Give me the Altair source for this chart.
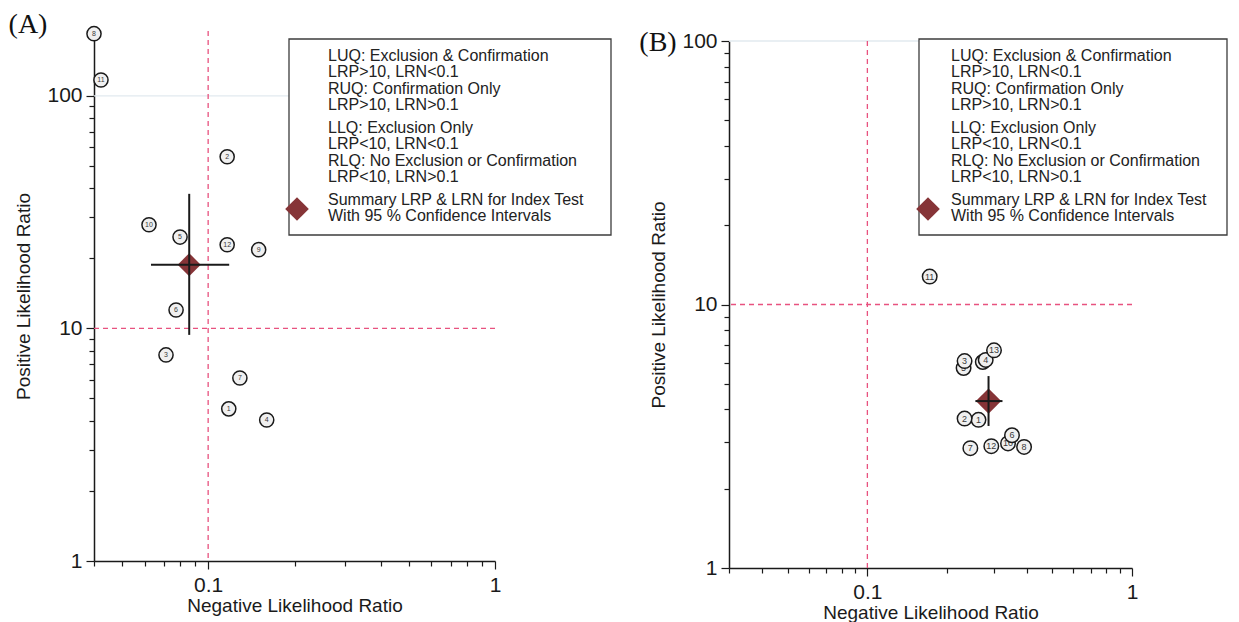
import altair as alt
import pandas as pd

# ---------------- Panel A (12 studies) ----------------
a_study = [1, 2, 3, 4, 5, 6, 7, 8, 9, 10, 11, 12]
a_lrn = [0.118, 0.1165, 0.0713, 0.160, 0.0798, 0.0773, 0.129, 0.0400, 0.150, 0.0622, 0.0423, 0.1165]
a_lrp = [4.51, 54.7, 7.69, 4.04, 24.7, 12.0, 6.12, 185.0, 21.8, 27.9, 117.0, 22.9]
a_draw_order = [1, 2, 3, 4, 5, 6, 7, 8, 9, 10, 11, 12]
a_sum_lrn = [0.0859]
a_sum_lrp = [18.8]
a_lrn_ci = [0.0632, 0.1184]
a_lrp_ci = [9.38, 37.9]

# ---------------- Panel B (13 studies) ----------------
b_study = [1, 2, 3, 4, 5, 6, 7, 8, 9, 10, 11, 12, 13]
b_lrn = [0.263, 0.233, 0.233, 0.280, 0.231, 0.352, 0.245, 0.391, 0.273, 0.340, 0.172, 0.294, 0.301]
b_lrp = [3.65, 3.69, 6.10, 6.16, 5.74, 3.19, 2.85, 2.88, 6.05, 2.97, 12.76, 2.90, 6.70]
b_draw_order = [5, 9, 10, 1, 2, 3, 4, 6, 7, 8, 11, 12, 13]
b_sum_lrn = [0.287]
b_sum_lrp = [4.30]
b_lrn_ci = [0.256, 0.324]
b_lrp_ci = [3.46, 5.35]

# ---------------- axes ----------------
y_ticks = [1, 2, 3, 4, 5, 6, 7, 8, 9, 10, 20, 30, 40, 50, 60, 70, 80, 90, 100]
y_major = [1, 10, 100]
a_x_ticks = [0.04, 0.05, 0.06, 0.07, 0.08, 0.09, 0.1, 0.2, 0.3, 0.4, 0.5, 0.6, 0.7, 0.8, 0.9, 1]
b_x_ticks = [0.03, 0.04, 0.05, 0.06, 0.07, 0.08, 0.09, 0.1, 0.2, 0.3, 0.4, 0.5, 0.6, 0.7, 0.8, 0.9, 1]
x_major = [0.1, 1]
x_title = "Negative Likelihood Ratio"
y_title = "Positive Likelihood Ratio"
ref_lrn = 0.1
ref_lrp = 10
grid_lrp = 100

legend_g1 = ["LUQ: Exclusion & Confirmation", "LRP>10, LRN<0.1",
             "RUQ: Confirmation Only", "LRP>10, LRN>0.1"]
legend_g2 = ["LLQ: Exclusion Only", "LRP<10, LRN<0.1",
             "RLQ: No Exclusion or Confirmation", "LRP<10, LRN>0.1"]
legend_g3 = ["Summary LRP & LRN for Index Test", "With 95 % Confidence Intervals"]

FONT = "Liberation Sans"
DASH_COLOR = "#e8527f"
DIAMOND_COLOR = "#863437"
INK = "#1a1a1a"


def major_test(vals):
    return " || ".join(f"datum.value == {v}" for v in vals)


def make_axis(ticks, major, title, fmt_expr, title_pad, label_pad):
    test = major_test(major)
    return alt.Axis(
        values=ticks,
        title=title,
        labelExpr=f"({test}) ? {fmt_expr} : ''",
        tickSize={"condition": {"test": test, "value": 8}, "value": 5},
        grid=False,
        domainColor=INK, tickColor=INK, domainWidth=1.5, tickWidth=1.2,
        labelFont=FONT, titleFont=FONT, labelFontSize=21, titleFontSize=19,
        labelColor=INK, titleColor=INK, titleFontWeight="normal",
        labelPadding=label_pad, titlePadding=title_pad,
        labelOverlap=False, labelFlush=False,
    )


def panel(study, lrn, lrp, order, s_lrn, s_lrp, lrn_ci, lrp_ci,
          xdom, x_ticks, ydom, w, h, csize, lsize, dsize,
          box, text_x, text_ys, leg_d, tag, tag_pos):
    xs = alt.Scale(type="log", domain=xdom, nice=False)
    ys = alt.Scale(type="log", domain=ydom, nice=False)
    xax = make_axis(x_ticks, x_major, x_title, "(datum.value == 1 ? '1' : '0.1')", 1, 5)
    yax = make_axis(y_ticks, y_major, y_title, "format(datum.value, 'd')", 13, 4)

    df = pd.DataFrame({"study": study, "lrn": lrn, "lrp": lrp})
    sdf = pd.DataFrame({"lrn": s_lrn, "lrp": s_lrp,
                        "xlo": [lrn_ci[0]], "xhi": [lrn_ci[1]],
                        "ylo": [lrp_ci[0]], "yhi": [lrp_ci[1]]})
    one = pd.DataFrame({"k": [0]})

    X = lambda f: alt.X(f, scale=xs, axis=xax)
    Y = lambda f: alt.Y(f, scale=ys, axis=yax)

    base = alt.Chart(df)
    layers = [
        alt.Chart(sdf).mark_rule(color="#e2eaef", strokeWidth=1.3).encode(
            y=alt.Y(datum=grid_lrp, scale=ys, axis=yax)),
        alt.Chart(sdf).mark_rule(color=DASH_COLOR, strokeWidth=1.3, strokeDash=[5, 4]).encode(
            x=alt.X(datum=ref_lrn, scale=xs, axis=xax)),
        alt.Chart(sdf).mark_rule(color=DASH_COLOR, strokeWidth=1.3, strokeDash=[5, 4]).encode(
            y=alt.Y(datum=ref_lrp, scale=ys, axis=yax)),
    ]
    for s in order:
        sub = base.transform_filter(alt.datum.study == s)
        layers.append(sub.mark_circle(size=csize, fill="#f0f0f0", stroke=INK,
                                      strokeWidth=1.5, opacity=1).encode(
            x=X("lrn:Q"), y=Y("lrp:Q")))
        layers.append(sub.mark_text(fontSize=lsize, font=FONT, color="#3a3a3a",
                                    baseline="middle", align="center").encode(
            x=X("lrn:Q"), y=Y("lrp:Q"), text="study:N"))
    layers += [
        alt.Chart(sdf).mark_point(shape="diamond", filled=True, color=DIAMOND_COLOR,
                                  size=dsize, opacity=1).encode(x=X("lrn:Q"), y=Y("lrp:Q")),
        alt.Chart(sdf).mark_rule(color=INK, strokeWidth=2).encode(
            x=X("xlo:Q"), x2="xhi:Q", y=Y("lrp:Q")),
        alt.Chart(sdf).mark_rule(color=INK, strokeWidth=2).encode(
            x=X("lrn:Q"), y=Y("ylo:Q"), y2="yhi:Q"),
        # legend box
        alt.Chart(one).mark_rect(fill="white", stroke="#3c3c3c", strokeWidth=1.3).encode(
            x=alt.value(box[0]), x2=alt.value(box[1]),
            y=alt.value(box[2]), y2=alt.value(box[3])),
    ]
    for lines, ty in zip([legend_g1, legend_g2, legend_g3], text_ys):
        layers.append(alt.Chart(one).mark_text(
            text=lines, lineHeight=16.4, font=FONT, fontSize=16, color="#222222",
            align="left", baseline="top").encode(x=alt.value(text_x), y=alt.value(ty)))
    layers += [
        alt.Chart(one).mark_point(shape="diamond", filled=True, color=DIAMOND_COLOR,
                                  size=560, opacity=1).encode(
            x=alt.value(leg_d[0]), y=alt.value(leg_d[1])),
        alt.Chart(one).mark_text(text=tag, font="Liberation Serif", fontSize=28,
                                 color="#111111", align="center", baseline="middle").encode(
            x=alt.value(tag_pos[0]), y=alt.value(tag_pos[1])),
    ]
    return alt.layer(*layers).properties(width=w, height=h)


A = panel(a_study, a_lrn, a_lrp, a_draw_order, a_sum_lrn, a_sum_lrp, a_lrn_ci, a_lrp_ci,
          [0.04, 1], a_x_ticks, [1, 190], 401, 530, 200, 7, 530,
          (195, 517, 8, 204), 234, (17, 89, 161), (203, 178), "(A)", (-66, -6))

B = panel(b_study, b_lrn, b_lrp, b_draw_order, b_sum_lrn, b_sum_lrp, b_lrn_ci, b_lrp_ci,
          [0.03, 1], b_x_ticks, [1, 100], 403, 527, 210, 9, 640,
          (190, 498, -2, 194), 222, (7, 79, 151), (199, 168), "(B)", (-71, 2))

spacer = alt.Chart(pd.DataFrame({"v": [1]})).mark_point(opacity=0).encode(
    x=alt.X("v:Q", axis=None), y=alt.Y("v:Q", axis=None)).properties(width=403, height=3)

right = alt.vconcat(spacer, B, spacing=7, bounds="flush")

chart = alt.hconcat(A, right, spacing=234, bounds="flush").configure_view(
    stroke="transparent").properties(
    padding={"left": 0, "top": 2, "right": 0, "bottom": 0})

chart.save("out.html", embed_options={"renderer": "svg", "actions": False})
